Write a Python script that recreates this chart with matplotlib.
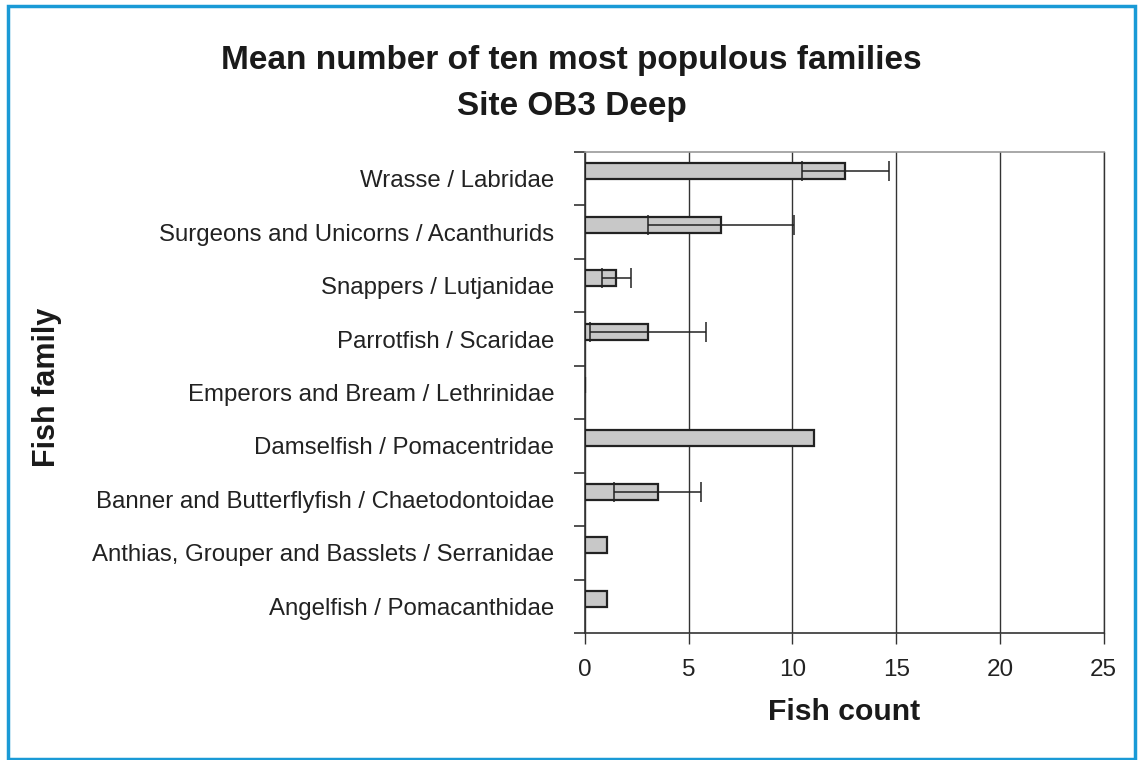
import matplotlib
matplotlib.use("Agg")
import matplotlib.pyplot as plt
from matplotlib.patches import Rectangle
import numpy as np

plt.rcParams['font.family'] = ['Liberation Sans', 'DejaVu Sans']

families = [
    "Wrasse / Labridae",
    "Surgeons and Unicorns / Acanthurids",
    "Snappers / Lutjanidae",
    "Parrotfish / Scaridae",
    "Emperors and Bream / Lethrinidae",
    "Damselfish / Pomacentridae",
    "Banner and Butterflyfish / Chaetodontoidae",
    "Anthias, Grouper and Basslets / Serranidae",
    "Angelfish / Pomacanthidae",
]
means = [12.55, 6.55, 1.5, 3.05, 0.0, 11.05, 3.5, 1.05, 1.05]
errors = [2.1, 3.5, 0.7, 2.8, 0.0, 0.0, 2.1, 0.0, 0.0]
xticks = [0, 5, 10, 15, 20, 25]

fig = plt.figure(figsize=(11.41, 7.6), dpi=100)
ax = fig.add_axes([0.5127, 0.1671, 0.4546, 0.6329])

n = len(families)
pos = np.arange(n)
centers = pos - 0.14
ax.barh(centers, means, height=0.3, color="#c8c8c8", edgecolor="#222222",
        linewidth=1.6, zorder=3)
for c, m, e in zip(centers, means, errors):
    if e > 0:
        ax.errorbar(m, c, xerr=e, fmt='none', ecolor="#222222", elinewidth=1.1,
                    capsize=7, capthick=1.1, zorder=4)

ax.set_ylim(n - 0.5, -0.5)
ax.set_xlim(0, 25)
ax.set_yticks(pos)
ax.set_yticklabels(families, fontsize=17.3, color="#222222")
ax.set_yticks(np.arange(n + 1) - 0.5, minor=True)
ax.tick_params(axis='y', which='major', length=0, pad=22)
ax.tick_params(axis='y', which='minor', length=8, width=1.2, color="#333333", direction='out')
ax.set_xticks(xticks)
ax.tick_params(axis='x', length=8, width=1.0, color="#333333", labelsize=17.5, pad=11,
               labelcolor="#222222")
ax.xaxis.grid(True, color="#333333", linewidth=1.0, zorder=0)
ax.yaxis.grid(False)
ax.spines['top'].set_color("#999999")
ax.spines['top'].set_linewidth(1.2)
ax.spines['right'].set_color("#333333")
ax.spines['right'].set_linewidth(1.0)
ax.spines['bottom'].set_color("#333333")
ax.spines['bottom'].set_linewidth(1.2)
ax.spines['left'].set_color("#333333")
ax.spines['left'].set_linewidth(1.2)

ax.set_xlabel("Fish count", fontsize=21.7, fontweight='bold', labelpad=12, color="#1a1a1a")
fig.text(0.041, 0.49, "Fish family", rotation=90, fontsize=22, fontweight='bold',
         ha='center', va='center', color="#1a1a1a")

fig.text(0.501, 0.921, "Mean number of ten most populous families", fontsize=24,
         fontweight='bold', ha='center', va='center', color="#1a1a1a")
fig.text(0.501, 0.86, "Site OB3 Deep", fontsize=24,
         fontweight='bold', ha='center', va='center', color="#1a1a1a")

fig.patches.append(Rectangle((8 / 1141, 1 / 760), 1127 / 1141, 753 / 760,
                             transform=fig.transFigure, fill=False,
                             edgecolor="#1a9ad6", linewidth=2.5))

fig.savefig("out.png", dpi=100)
